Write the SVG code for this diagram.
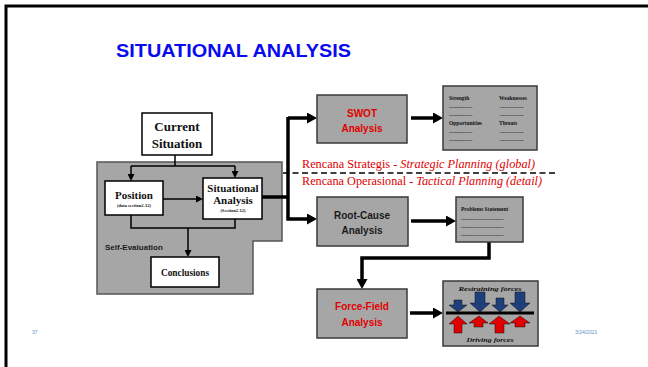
<svg xmlns="http://www.w3.org/2000/svg" width="648" height="367" viewBox="0 0 648 367">
  <defs>
    <style>
      .frame { fill: none; stroke: #000; stroke-width: 3; }
      .title { font-family: "Liberation Sans", Arial, sans-serif; font-weight: bold; font-size: 19px; fill: #0a0af0; }
      .wbox { fill: #fff; stroke: #000; stroke-width: 1.5; }
      .gbox { fill: #a6a6a6; stroke: #3a3a3a; stroke-width: 1.5; }
      .region { fill: #a6a6a6; stroke: #555; stroke-width: 1.5; }
      .serifb { font-family: "Liberation Serif", "Times New Roman", serif; font-weight: bold; fill: #111; text-anchor: middle; }
      .sansb { font-family: "Liberation Sans", Arial, sans-serif; font-weight: bold; text-anchor: middle; }
      .label { font-family: "Liberation Sans", Arial, sans-serif; font-weight: bold; font-size: 8px; fill: #1a1a1a; }
      .red { fill: #e00000; }
      .dark { fill: #1a1a1a; }
      .tiny { font-family: "Liberation Serif", "Times New Roman", serif; font-weight: bold; font-size: 5.5px; fill: #111; }
      .plan { font-family: "Liberation Serif", "Times New Roman", serif; font-size: 11.5px; fill: #e00000; }
      .thin { fill: none; stroke: #000; stroke-width: 1.5; }
      .thick { fill: none; stroke: #000; stroke-width: 3.5; }
      .foot { font-family: "Liberation Sans", Arial, sans-serif; font-size: 5px; fill: #5b8fc7; }
      .blue-arrow { fill: #1f3f7a; stroke: #111; stroke-width: 0.5; }
      .red-arrow { fill: #e00000; stroke: #111; stroke-width: 0.5; }
      .force { font-family: "Liberation Serif", "Times New Roman", serif; font-weight: bold; font-style: italic; font-size: 7px; fill: #111; text-anchor: middle; }
    </style>
    <marker id="ahThin" markerUnits="userSpaceOnUse" markerWidth="7" markerHeight="7" refX="2" refY="3.5" orient="auto">
      <path d="M0,0 L7,3.5 L0,7 z" fill="#000"/>
    </marker>
    <marker id="ahThick" markerUnits="userSpaceOnUse" markerWidth="11" markerHeight="11" refX="3" refY="5.5" orient="auto">
      <path d="M0,0 L10,5.5 L0,11 z" fill="#000"/>
    </marker>
  </defs>

  <!-- slide frame -->
  <path class="frame" d="M6,367 V6 H648"/>

  <text class="title" x="116" y="57" textLength="235" lengthAdjust="spacingAndGlyphs">SITUATIONAL ANALYSIS</text>

  <!-- self-evaluation area -->
  <g id="self-evaluation">
    <polygon class="region" points="97,162 282,162 282,241 253,241 253,294 97,294"/>
    <text class="label" x="105" y="250">Self-Evaluation</text>
  </g>

  <!-- connectors -->
  <g id="connectors">
    <path class="thin" d="M175,155 V166"/>
    <path class="thin" d="M131,166 H235"/>
    <path class="thin" d="M131,166 V176" marker-end="url(#ahThin)"/>
    <path class="thin" d="M235,166 V173" marker-end="url(#ahThin)"/>
    <path class="thin" d="M163,199 H198" marker-end="url(#ahThin)"/>
    <path class="thin" d="M131,215 V228 H235 V219"/>
    <path class="thin" d="M188,228 V252" marker-end="url(#ahThin)"/>

    <path class="thick" d="M262,197 H288"/>
    <path class="thick" d="M288,117 V219 H310" marker-end="url(#ahThick)"/>
    <path class="thick" d="M288,118 H310" marker-end="url(#ahThick)"/>
    <path class="thick" d="M411,118 H436" marker-end="url(#ahThick)"/>
    <path class="thick" d="M411,221 H449" marker-end="url(#ahThick)"/>
    <path class="thick" d="M489,242 V258 H362 V282" marker-end="url(#ahThick)"/>
    <path class="thick" d="M410,313 H436" marker-end="url(#ahThick)"/>
  </g>

  <g id="current-situation">
    <rect class="wbox" x="142" y="113" width="70" height="42"/>
    <text class="serifb" x="177" y="131" font-size="13">Current</text>
    <text class="serifb" x="177" y="148" font-size="13">Situation</text>
  </g>

  <g id="position">
    <rect class="wbox" x="105" y="181" width="58" height="34"/>
    <text class="serifb" x="134" y="199" font-size="11">Position</text>
    <text class="serifb" x="134" y="207" font-size="4.5">(data section2-12)</text>
  </g>

  <g id="situational-analysis">
    <rect class="wbox" x="203" y="178" width="59" height="41"/>
    <text class="serifb" x="233" y="192" font-size="11">Situational</text>
    <text class="serifb" x="233" y="204" font-size="11">Analysis</text>
    <text class="serifb" x="233" y="212" font-size="4.5">(Section2-12)</text>
  </g>

  <g id="conclusions">
    <rect class="wbox" x="151" y="257" width="68" height="30"/>
    <text class="serifb" x="185" y="276" font-size="10.5" textLength="48" lengthAdjust="spacingAndGlyphs">Conclusions</text>
  </g>

  <g id="swot-analysis">
    <rect class="gbox" x="317" y="95" width="90" height="48"/>
    <text class="sansb red" x="362" y="117" font-size="10">SWOT</text>
    <text class="sansb red" x="362" y="132" font-size="10">Analysis</text>
  </g>

  <g id="swot-matrix">
    <rect class="gbox" x="443" y="86" width="94" height="64"/>
    <text class="tiny" x="449" y="100">Strength</text>
    <text class="tiny" x="499" y="100">Weaknesses</text>
    <text class="tiny" x="449" y="108">.................</text>
    <text class="tiny" x="449" y="116">.................</text>
    <text class="tiny" x="500" y="108">.................</text>
    <text class="tiny" x="500" y="116">.................</text>
    <text class="tiny" x="449" y="125">Opportunities</text>
    <text class="tiny" x="499" y="125">Threats</text>
    <text class="tiny" x="449" y="133">.................</text>
    <text class="tiny" x="449" y="141">.................</text>
    <text class="tiny" x="500" y="133">.................</text>
    <text class="tiny" x="500" y="141">.................</text>
  </g>

  <!-- planning level divider -->
  <g id="planning-divider">
    <line x1="283" y1="173" x2="557" y2="173" stroke="#000" stroke-width="1.3" stroke-dasharray="6,3.5"/>
    <text class="plan" x="302" y="168" textLength="233" lengthAdjust="spacingAndGlyphs">Rencana Strategis - <tspan font-style="italic">Strategic Planning (global)</tspan></text>
    <text class="plan" x="302" y="185" textLength="240" lengthAdjust="spacingAndGlyphs">Rencana Operasional - <tspan font-style="italic">Tactical Planning (detail)</tspan></text>
  </g>

  <g id="root-cause-analysis">
    <rect class="gbox" x="317" y="197" width="91" height="49"/>
    <text class="sansb dark" x="362" y="219" font-size="10">Root-Cause</text>
    <text class="sansb dark" x="362" y="234" font-size="10">Analysis</text>
  </g>

  <g id="problems-statement">
    <rect class="gbox" x="456" y="197" width="67" height="45"/>
    <text class="tiny" x="461" y="211">Problems Statement</text>
    <text class="tiny" x="461" y="220">...............................</text>
    <text class="tiny" x="461" y="228">...............................</text>
    <text class="tiny" x="461" y="236">...............................</text>
  </g>

  <g id="force-field-analysis">
    <rect class="gbox" x="317" y="289" width="90" height="49"/>
    <text class="sansb red" x="362" y="310" font-size="10">Force-Field</text>
    <text class="sansb red" x="362" y="326" font-size="10">Analysis</text>
  </g>

  <g id="force-field-chart">
    <rect class="gbox" x="443" y="281" width="95" height="65"/>
    <text class="force" x="490" y="291" textLength="63" lengthAdjust="spacingAndGlyphs">Restraining forces</text>
    <!-- restraining forces pushing down -->
    <polygon class="blue-arrow" points="454,300 462,300 462,305 467,305 458,312 449,305 454,305"/>
    <polygon class="blue-arrow" points="475,292 485,292 485,303 490,303 480,312 470,303 475,303"/>
    <polygon class="blue-arrow" points="496,298 504,298 504,305 508,305 500,312 492,305 496,305"/>
    <polygon class="blue-arrow" points="515,292 525,292 525,303 530,303 520,312 510,303 515,303"/>
    <!-- equilibrium bar -->
    <rect x="446" y="311.5" width="88" height="3" fill="#000"/>
    <!-- driving forces pushing up -->
    <polygon class="red-arrow" points="458,316 467,324 462,324 462,333 454,333 454,324 449,324"/>
    <polygon class="red-arrow" points="479,316 488,323 483,323 483,327 474,327 474,323 469,323"/>
    <polygon class="red-arrow" points="499,316 510,324 504,324 504,333 495,333 495,324 489,324"/>
    <polygon class="red-arrow" points="520,316 530,323 525,323 525,327 515,327 515,323 510,323"/>
    <text class="force" x="490" y="342" textLength="47" lengthAdjust="spacingAndGlyphs">Driving forces</text>
  </g>

  <!-- slide footer -->
  <text class="foot" x="32" y="334">37</text>
  <text class="foot" x="575" y="334">3/24/2021</text>
</svg>
